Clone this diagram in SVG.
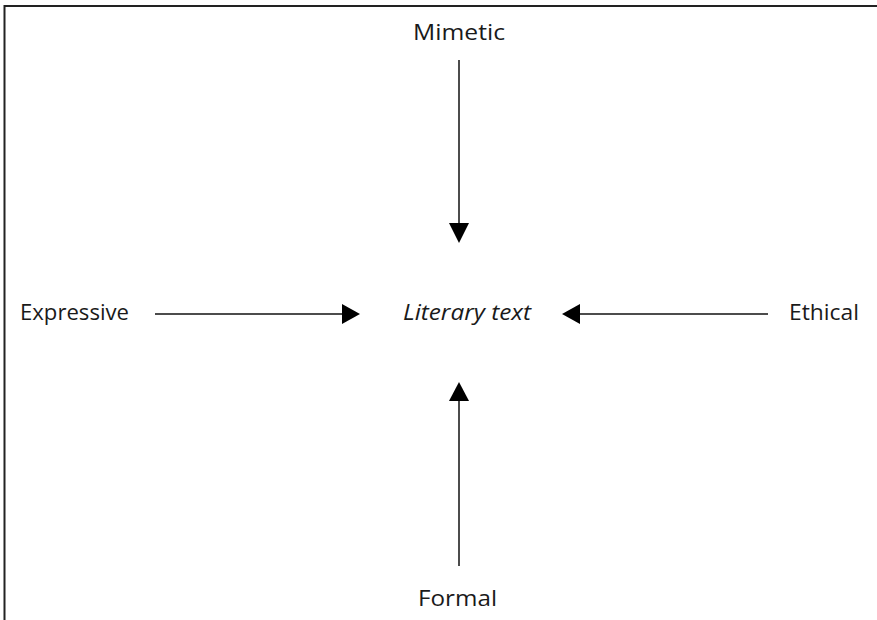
<svg xmlns="http://www.w3.org/2000/svg" width="877" height="620" viewBox="0 0 877 620">
<style>
.t{font-family:"Open Sans","Noto Sans","Liberation Sans",sans-serif;font-size:21px;fill:#1a1a1a}
.i{font-style:italic}
.ln{stroke:#111;stroke-width:1.5;fill:none}
.hd{fill:#000}
</style>
<rect width="877" height="620" fill="#fff"/>
<g id="frame">
<path d="M4.5 620 V6 H877" fill="none" stroke="#222" stroke-width="2"/>
</g>
<g id="connectors">
<line class="ln" x1="459" y1="60" x2="459" y2="226"/>
<polygon class="hd" points="449,223 469,223 459,243"/>
<line class="ln" x1="155" y1="314" x2="344" y2="314"/>
<polygon class="hd" points="342,304 342,324 360,314"/>
<line class="ln" x1="578" y1="314" x2="768" y2="314"/>
<polygon class="hd" points="580,304 580,324 562,314"/>
<line class="ln" x1="459" y1="398" x2="459" y2="566" stroke="#888"/>
<polygon class="hd" points="449,401 469,401 459,382"/>
</g>
<g id="mimetic"><text class="t" x="413" y="40" textLength="92" lengthAdjust="spacingAndGlyphs">Mimetic</text></g>
<g id="expressive"><text class="t" x="20" y="320" textLength="109" lengthAdjust="spacingAndGlyphs">Expressive</text></g>
<g id="literary"><text class="t i" x="403" y="320" textLength="128" lengthAdjust="spacingAndGlyphs">Literary text</text></g>
<g id="ethical"><text class="t" x="789" y="320" textLength="70" lengthAdjust="spacingAndGlyphs">Ethical</text></g>
<g id="formal"><text class="t" x="418" y="606" textLength="79" lengthAdjust="spacingAndGlyphs">Formal</text></g>
</svg>
